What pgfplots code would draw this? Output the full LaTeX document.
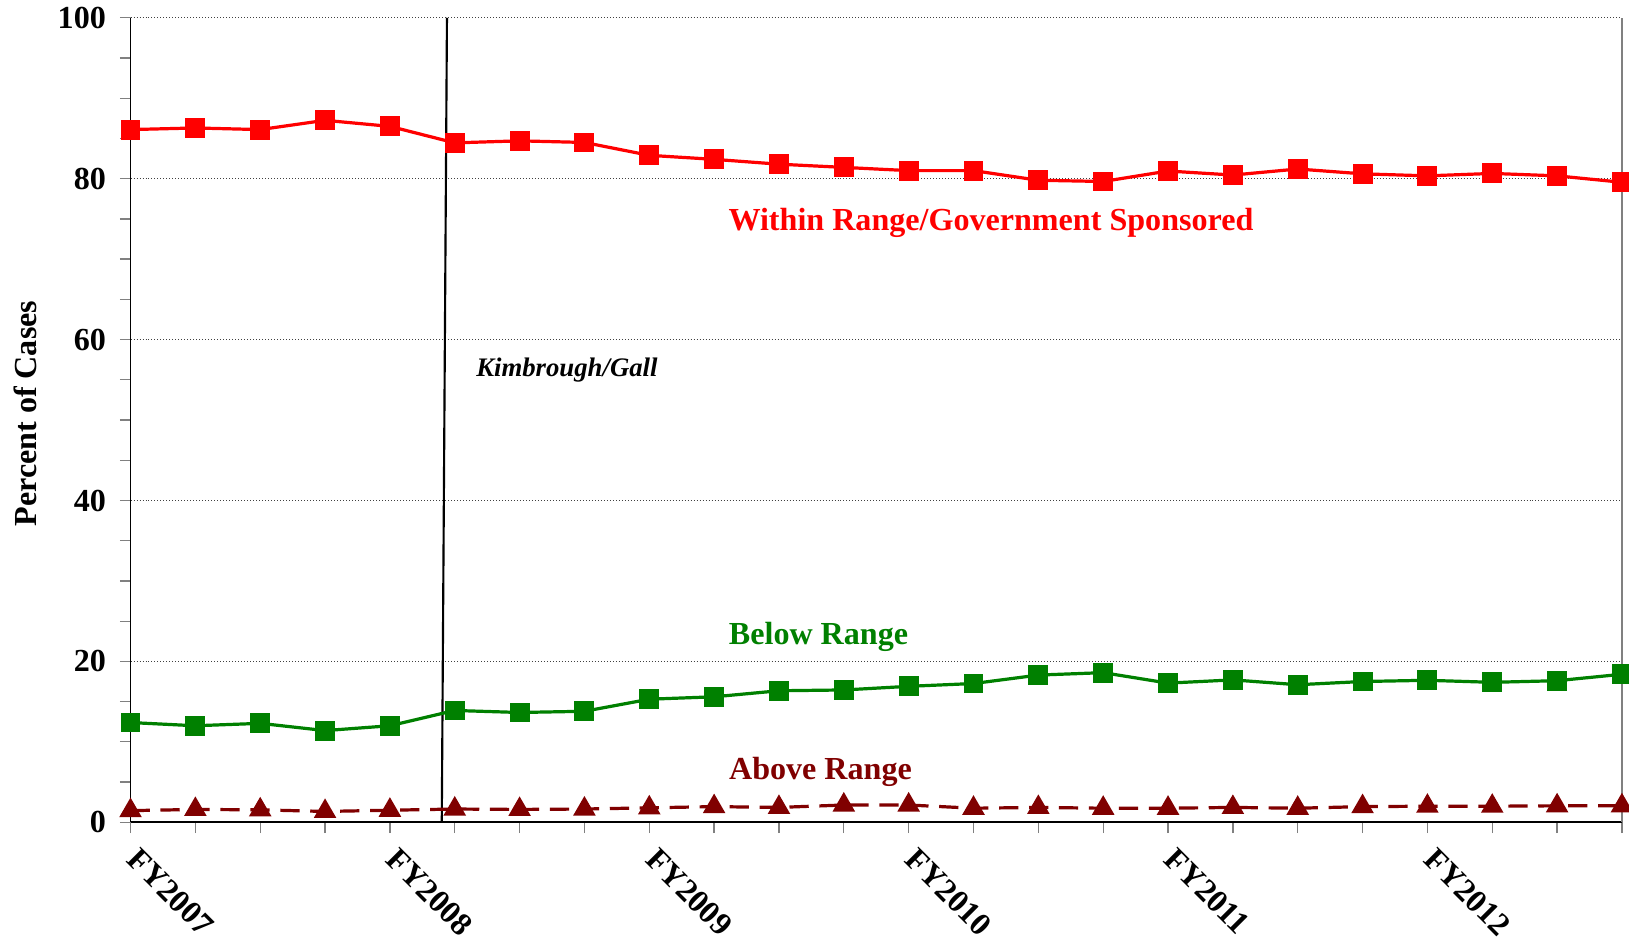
\documentclass[border=0pt]{standalone}
\usepackage{fontspec}
\setmainfont{Liberation Serif}
\usepackage{pgfplots}
\pgfplotsset{compat=1.18}
\definecolor{cred}{RGB}{255,0,0}
\definecolor{cgreen}{RGB}{0,128,0}
\definecolor{cdark}{RGB}{128,0,0}
\begin{document}
\begin{tikzpicture}
\useasboundingbox (-61pt,-54.7pt) rectangle (700.3pt,384.3pt);
\begin{axis}[
  at={(0,0)}, anchor=south west,
  scale only axis, width=697pt, height=376pt,
  xmin=0, xmax=23, ymin=0, ymax=100,
  clip=false,
  axis x line*=bottom, axis y line*=left,
  axis line style={black, line width=0.8pt, -},
  xtick={0,4,8,12,16,20},
  xticklabels={FY2007,FY2008,FY2009,FY2010,FY2011,FY2012},
  minor xtick={1,2,3,5,6,7,9,10,11,13,14,15,17,18,19,21,22,23},
  ytick={0,20,40,60,80,100},
  minor y tick num=3,
  tick align=outside,
  major tick length=5pt, minor tick length=5pt,
  tick style={gray, line width=0.6pt},
  ymajorgrids,
  major grid style={densely dotted, black!75, line width=0.5pt},
  xticklabel style={xshift=4.6pt, yshift=-1.4pt, rotate=-45, anchor=north west, font=\fontsize{15}{17}\selectfont\bfseries},
  y tick label style={font=\fontsize{15}{17}\selectfont\bfseries, xshift=-3pt},
  /pgf/number format/assume math mode=true,
  ylabel={Percent of Cases},
  ylabel style={font=\fontsize{15}{17}\selectfont\bfseries, yshift=3pt, xshift=3pt},
]
\draw[gray, line width=0.6pt] (axis cs:23,0) -- (axis cs:23,100);
\draw[black, line width=1pt] (axis cs:4.80,0) -- (axis cs:4.88,100);
\addplot[cred, line width=1.5pt, mark=square*, mark size=3.9pt, mark options={solid}] coordinates {
(0,86.1)(1,86.3)(2,86.1)(3,87.25)(4,86.5)(5,84.45)(6,84.7)(7,84.5)(8,82.9)(9,82.4)(10,81.8)(11,81.4)
(12,81.0)(13,81.0)(14,79.8)(15,79.65)(16,80.95)(17,80.45)(18,81.2)(19,80.6)(20,80.35)(21,80.65)(22,80.35)(23,79.55)};
\addplot[cgreen, line width=1.5pt, mark=square*, mark size=3.9pt, mark options={solid}] coordinates {
(0,12.4)(1,12.0)(2,12.3)(3,11.4)(4,12.0)(5,13.9)(6,13.65)(7,13.8)(8,15.3)(9,15.6)(10,16.35)(11,16.45)
(12,16.9)(13,17.25)(14,18.3)(15,18.6)(16,17.3)(17,17.7)(18,17.1)(19,17.5)(20,17.65)(21,17.4)(22,17.6)(23,18.4)};
\addplot[cdark, line width=1.5pt, dash pattern=on 9pt off 5pt, mark=triangle*, mark size=4.6pt, mark options={solid}] coordinates {
(0,1.45)(1,1.6)(2,1.55)(3,1.35)(4,1.5)(5,1.65)(6,1.6)(7,1.65)(8,1.8)(9,1.95)(10,1.85)(11,2.15)
(12,2.15)(13,1.75)(14,1.85)(15,1.75)(16,1.75)(17,1.85)(18,1.75)(19,1.95)(20,2.0)(21,2.0)(22,2.05)(23,2.05)};
\node[cred, font=\fontsize{15}{17}\selectfont\bfseries] at (axis cs:13.27,74.5) {Within Range/Government Sponsored};
\node[cgreen, font=\fontsize{15}{17}\selectfont\bfseries] at (axis cs:10.61,23.1) {Below Range};
\node[cdark, font=\fontsize{15}{17}\selectfont\bfseries] at (axis cs:10.64,6.3) {Above Range};
\node[black, font=\fontsize{12.5}{14}\selectfont\bfseries\itshape] at (axis cs:6.73,56.2) {Kimbrough/Gall};
\end{axis}
\end{tikzpicture}
\end{document}
